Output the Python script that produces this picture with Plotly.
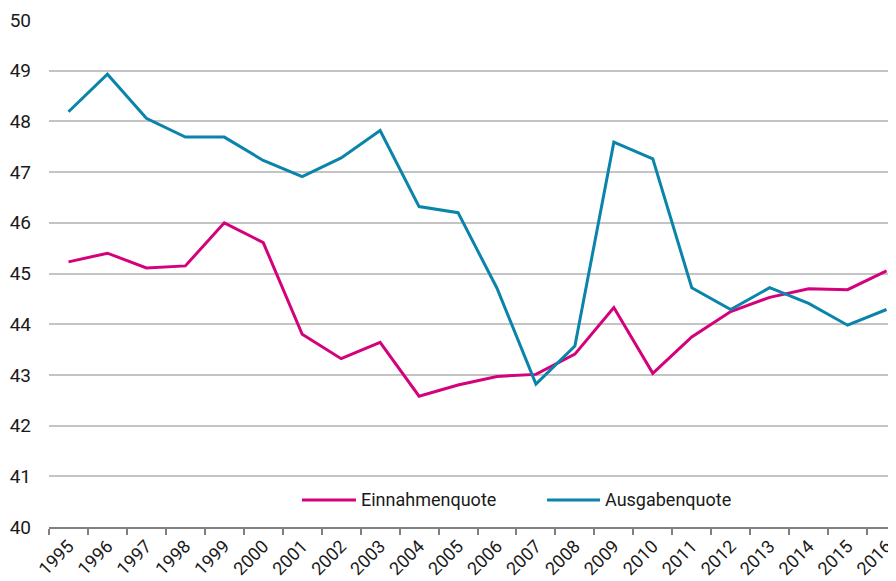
import plotly.graph_objects as go

# Daten
jahre = [str(j) for j in range(1995, 2017)]
einnahmenquote = [45.23, 45.40, 45.11, 45.15, 46.00, 45.61, 43.80, 43.32, 43.64, 42.58, 42.80,
                  42.97, 43.01, 43.41, 44.33, 43.03, 43.75, 44.25, 44.53, 44.70, 44.68, 45.05]
ausgabenquote = [48.19, 48.93, 48.06, 47.69, 47.69, 47.23, 46.91, 47.28, 47.82, 46.32, 46.20,
                 44.71, 42.82, 43.57, 47.59, 47.26, 44.72, 44.29, 44.72, 44.41, 43.98, 44.29]

farbe_ein = "#d4007c"
farbe_aus = "#0a84aa"
schrift = "Roboto, Liberation Sans, sans-serif"

fig = go.Figure()
fig.add_trace(go.Scatter(x=jahre, y=einnahmenquote, mode="lines", name="Einnahmenquote",
                         line=dict(color=farbe_ein, width=3), showlegend=False))
fig.add_trace(go.Scatter(x=jahre, y=ausgabenquote, mode="lines", name="Ausgabenquote",
                         line=dict(color=farbe_aus, width=3), showlegend=False))

# Legende von Hand (längere Linien als die Plotly-Legende)
legende = [("Einnahmenquote", farbe_ein, 0.2987, 0.3625),
           ("Ausgabenquote", farbe_aus, 0.588, 0.6505)]
for text, farbe, x0, x1 in legende:
    fig.add_shape(type="line", xref="paper", yref="paper", x0=x0, x1=x1, y0=0.0533, y1=0.0533,
                  line=dict(color=farbe, width=3))
    fig.add_annotation(text=text, xref="paper", yref="paper", x=x1 + 0.003, y=0.0533,
                       xanchor="left", yanchor="middle", showarrow=False,
                       font=dict(size=18, color="#1a1a1a"))

# die Seite hat 8px Rand, daher die Ränder etwas kleiner
fig.update_layout(
    width=896, height=581,
    margin=dict(l=41, r=8, t=12, b=62),
    paper_bgcolor="white", plot_bgcolor="white",
    font=dict(family=schrift, size=19, color="#1a1a1a"),
)
fig.update_xaxes(type="category", range=[-0.5, 21.243], tickangle=-45, automargin=False,
                 ticks="outside", tickson="boundaries", ticklen=6, tickwidth=1.5,
                 tickcolor="#808080", showline=True, linecolor="#808080", linewidth=1.5,
                 showgrid=False, tickfont=dict(size=18))
fig.update_yaxes(range=[40, 50], dtick=1, showgrid=True, gridcolor="#c4c4c4", gridwidth=1.5,
                 zeroline=False, showline=False, ticks="", ticklabelstandoff=17,
                 automargin=False, tickfont=dict(size=19))

fig.write_html("out.html")
